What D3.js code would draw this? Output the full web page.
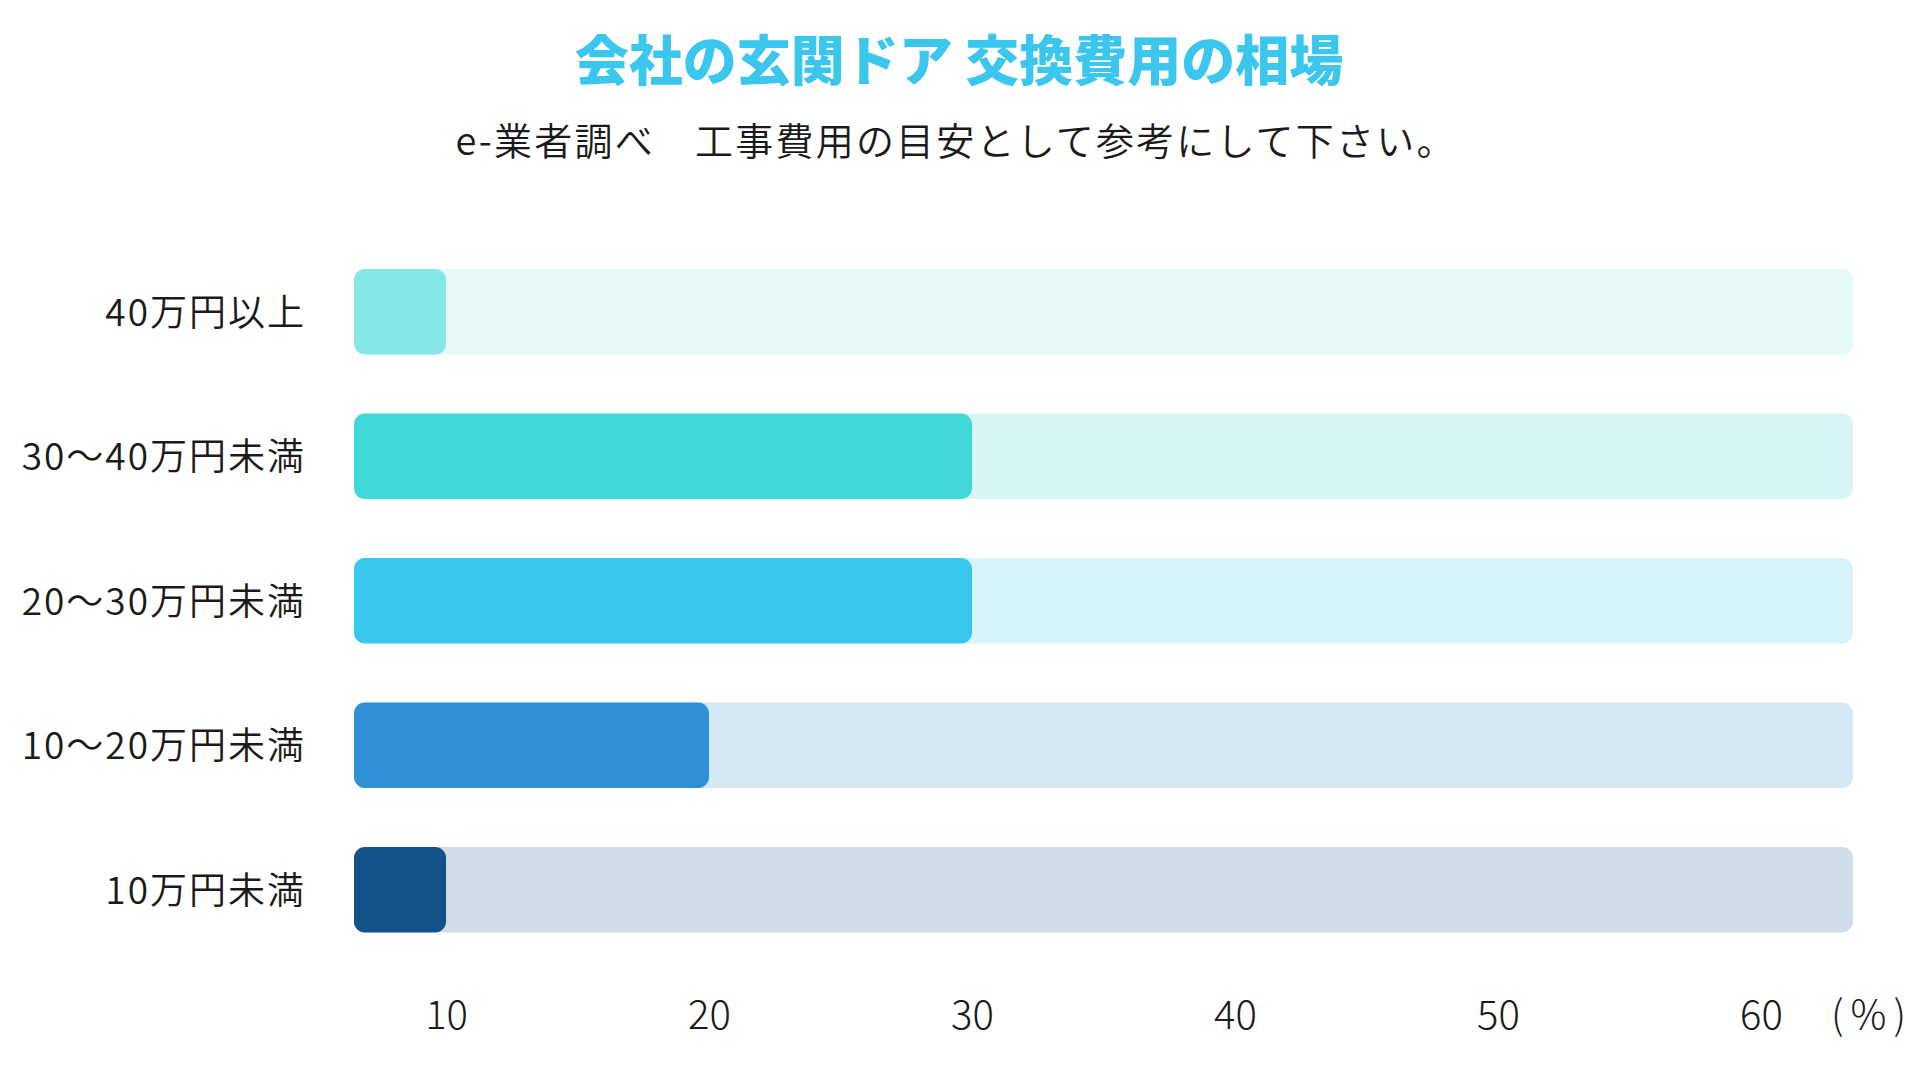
<!DOCTYPE html>
<html><head><meta charset="utf-8">
<script src="https://cdn.jsdelivr.net/npm/d3@7/dist/d3.min.js"></script>
<style>
html,body{margin:0;padding:0;background:#fff;}
svg{display:block;}
text{font-family:"Noto Sans CJK JP","Noto Sans",sans-serif;}
</style></head><body>
<svg id="c" width="1920" height="1080"></svg>
<script>
const title = "会社の玄関ドア 交換費用の相場";
const subtitle = "e-業者調べ　工事費用の目安として参考にして下さい。";
const categories = ["40万円以上","30〜40万円未満","20〜30万円未満","10〜20万円未満","10万円未満"];
const values = [10, 30, 30, 20, 10];
const barColors = ["#86e8e6","#3fd9d7","#38c8ee","#2f90d5","#155189"];
const trackColors = ["#e6f9f9","#d8f6f6","#d7f3fb","#d5e8f6","#d0dce8"];
const tickValues = [10,20,30,40,50,60];
const unitLabel = "(%)";

const svg = d3.select("#c");
const x = d3.scaleLinear().domain([6.5, 63.5]).range([354, 1853]);
const y = d3.scaleBand().domain(categories)
  .range([269, 269 + 144.5*5 - 59]).paddingInner(59/144.5).paddingOuter(0);

svg.append("text").attr("x",959).attr("y",81).attr("text-anchor","middle")
  .attr("font-size",54).attr("font-weight",900).attr("fill","#3bc6ee").text(title);
svg.append("text").attr("x",956).attr("y",155).attr("text-anchor","middle")
  .attr("font-size",38).attr("font-weight",350).attr("letter-spacing",2.2)
  .attr("fill","#1a1a1a").text(subtitle);

const g = svg.append("g");
g.selectAll("rect.track").data(categories).join("rect").attr("class","track")
  .attr("x", x.range()[0]).attr("y", d=>y(d)).attr("width", x.range()[1]-x.range()[0])
  .attr("height", y.bandwidth()).attr("rx",11).attr("fill",(d,i)=>trackColors[i]);
g.selectAll("rect.bar").data(categories).join("rect").attr("class","bar")
  .attr("x", x.range()[0]).attr("y", d=>y(d)).attr("width",(d,i)=>x(values[i])-x.range()[0])
  .attr("height", y.bandwidth()).attr("rx",11).attr("fill",(d,i)=>barColors[i]);

g.selectAll("text.cat").data(categories).join("text").attr("class","cat")
  .attr("x",306).attr("y",d=>y(d)+y.bandwidth()/2).attr("dy","0.38em")
  .attr("text-anchor","end").attr("font-size",37).attr("font-weight",350)
  .attr("letter-spacing",2).attr("fill","#1a1a1a").text(d=>d);

const axis = d3.axisBottom(x).tickValues(tickValues).tickSize(0).tickPadding(0);
const ag = svg.append("g").attr("transform","translate(0,1029)").call(axis);
ag.select(".domain").remove();
ag.selectAll("text").attr("font-size",40).attr("font-weight",300).attr("fill","#1a1a1a")
  .attr("y",0).attr("dy",0)
  .style("font-family",'"Noto Sans CJK JP","Noto Sans",sans-serif');
svg.append("text").attr("x",1831).attr("y",1029).attr("text-anchor","start")
  .attr("font-size",40).attr("font-weight",300).attr("letter-spacing",7)
  .attr("fill","#1a1a1a").text(unitLabel);
</script></body></html>
